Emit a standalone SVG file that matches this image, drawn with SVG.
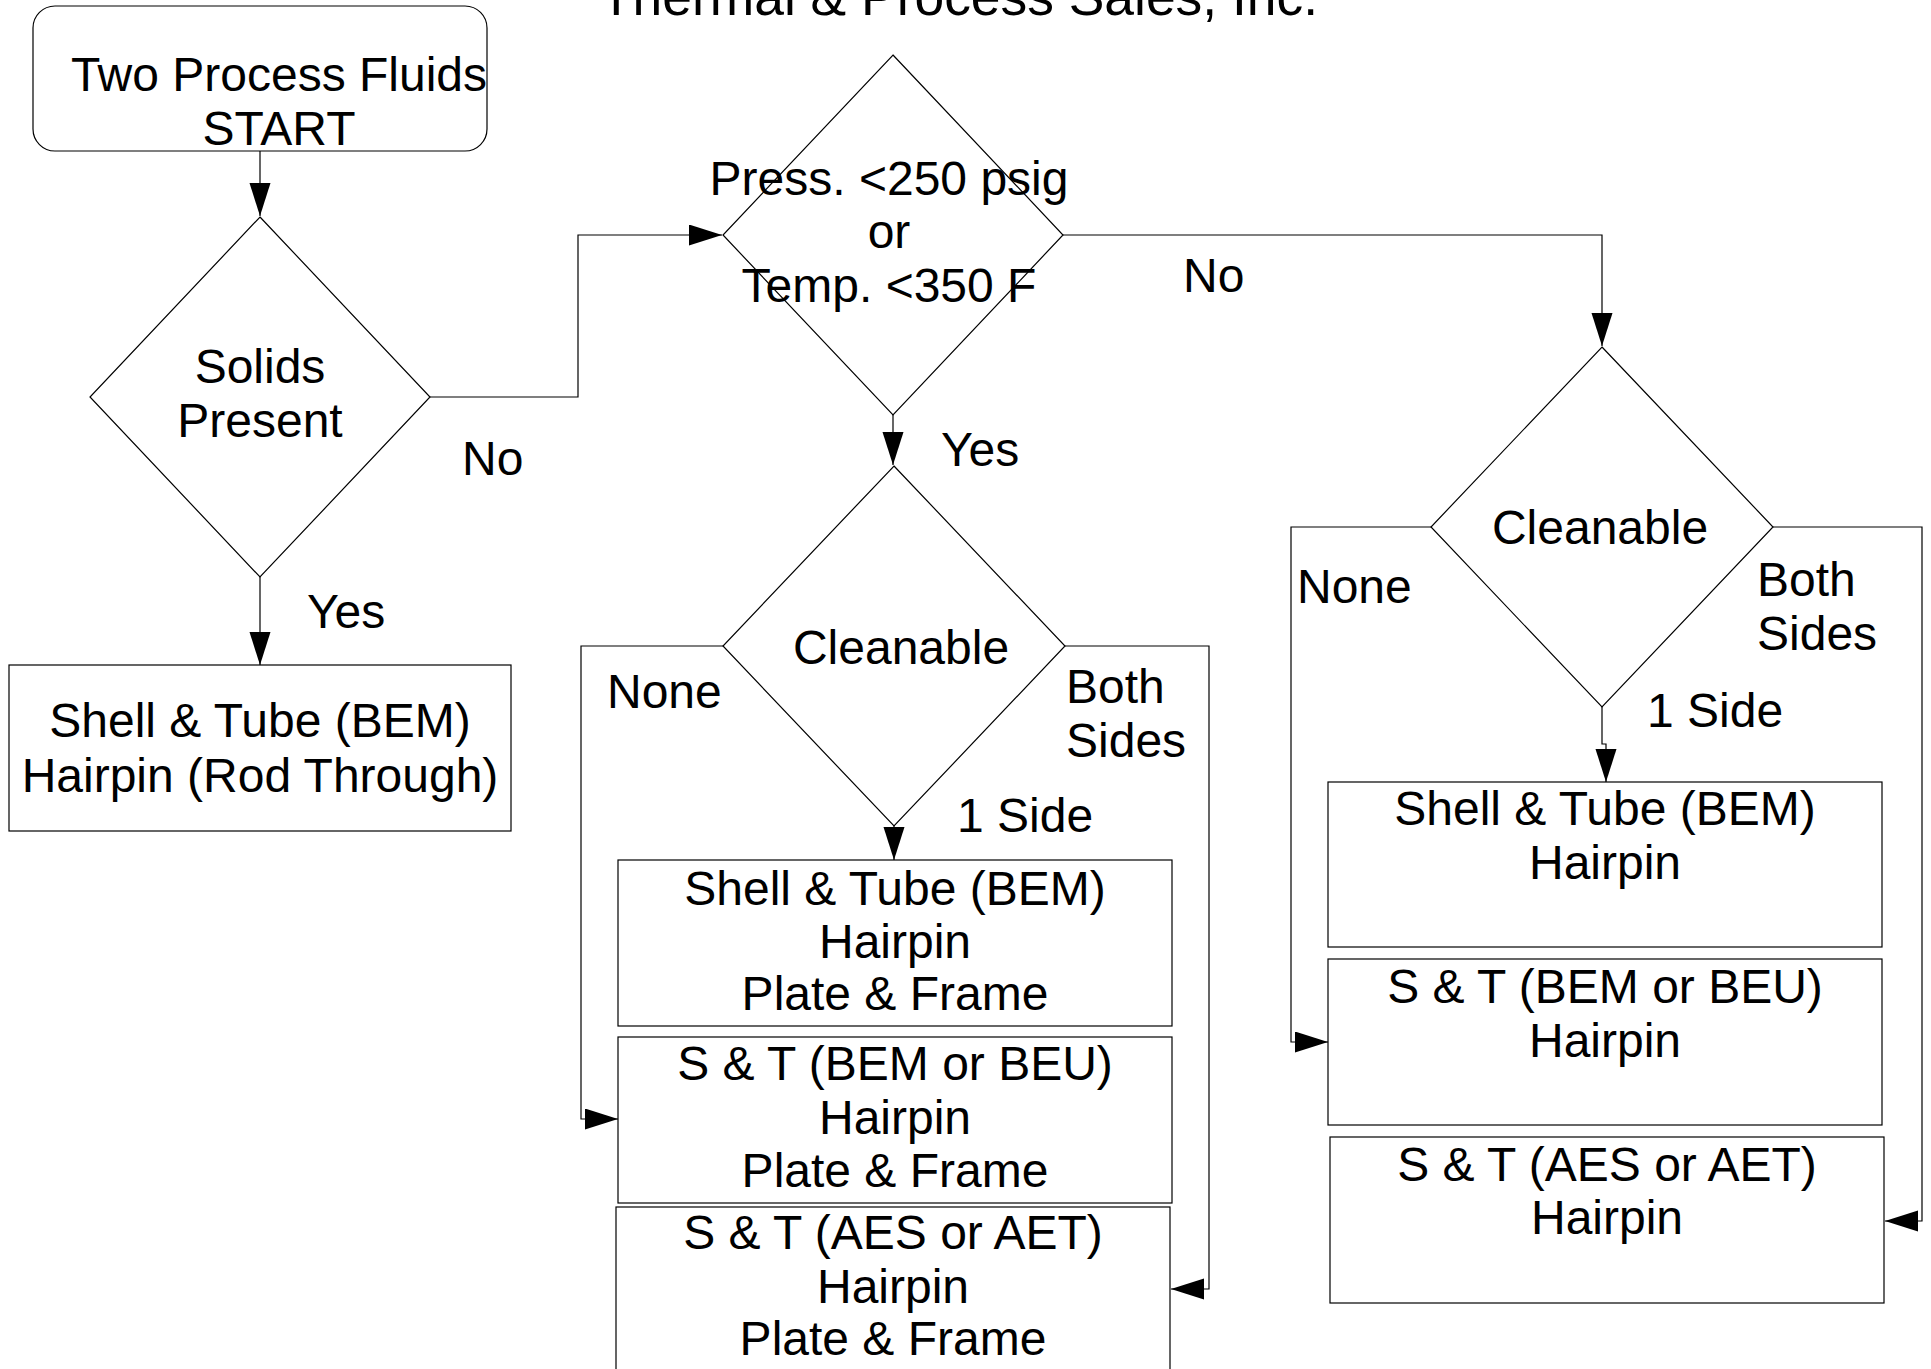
<svg xmlns="http://www.w3.org/2000/svg" width="1931" height="1369" viewBox="0 0 1931 1369">
<style>
text{font-family:"Liberation Sans",Arial,sans-serif;font-size:48px;fill:#000}
.c{text-anchor:middle}
.shape{fill:#fff;stroke:#000;stroke-width:1.2}
.con{fill:none;stroke:#000;stroke-width:1.2}
</style>
<defs>
<marker id="ah" markerUnits="userSpaceOnUse" markerWidth="34" markerHeight="22" refX="33" refY="10.5" orient="auto"><path d="M0,0 L33,10.5 L0,21 z" fill="#000"/></marker>
</defs>
<rect width="1931" height="1369" fill="#fff"/>
<text id="title" class="c" x="959" y="15" style="font-size:53.4px">Thermal &amp; Process Sales, Inc.</text>
<g id="connectors">
<path class="con" d="M260,151 V216" marker-end="url(#ah)"/>
<path class="con" d="M430,397 H578 V235 H722" marker-end="url(#ah)"/>
<path class="con" d="M260,577 V665" marker-end="url(#ah)"/>
<path class="con" d="M1063,235 H1602 V346" marker-end="url(#ah)"/>
<path class="con" d="M893,415 V465" marker-end="url(#ah)"/>
<path class="con" d="M723,646 H581 V1119 H618" marker-end="url(#ah)"/>
<path class="con" d="M1065,646 H1209 V1289 H1171" marker-end="url(#ah)"/>
<path class="con" d="M894,826 V860" marker-end="url(#ah)"/>
<path class="con" d="M1431,527 H1291 V1042 H1328" marker-end="url(#ah)"/>
<path class="con" d="M1773,527 H1922 V1221 H1885" marker-end="url(#ah)"/>
<path class="con" d="M1602,707 V744 H1606 V782" marker-end="url(#ah)"/>
</g>
<g id="start">
<rect class="shape" x="33" y="6" width="454" height="145" rx="22" ry="22"/>
<text class="c" x="279" y="91">Two Process Fluids</text>
<text class="c" x="279" y="145">START</text>
</g>
<g id="solids">
<polygon class="shape" points="260,217 430,397 260,577 90,397"/>
<text class="c" x="260" y="383">Solids</text>
<text class="c" x="260" y="437">Present</text>
</g>
<g id="rodthrough">
<rect class="shape" x="9" y="665" width="502" height="166"/>
<text class="c" x="260" y="737">Shell &amp; Tube (BEM)</text>
<text class="c" x="260" y="792">Hairpin (Rod Through)</text>
</g>
<g id="press">
<polygon class="shape" points="893,55 1063,235 893,415 723,235" style="fill:none"/>
<text class="c" x="889" y="195">Press. &lt;250 psig</text>
<text class="c" x="889" y="248">or</text>
<text class="c" x="889" y="302">Temp. &lt;350 F</text>
</g>
<g id="clean-mid">
<polygon class="shape" points="894,466 1065,646 894,826 723,646"/>
<text class="c" x="901" y="664">Cleanable</text>
</g>
<g id="clean-right">
<polygon class="shape" points="1602,347 1773,527 1602,707 1431,527"/>
<text class="c" x="1600" y="544">Cleanable</text>
</g>
<g id="mid1">
<rect class="shape" x="618" y="860" width="554" height="166"/>
<text class="c" x="895" y="905">Shell &amp; Tube (BEM)</text>
<text class="c" x="895" y="958">Hairpin</text>
<text class="c" x="895" y="1010">Plate &amp; Frame</text>
</g>
<g id="mid2">
<rect class="shape" x="618" y="1037" width="554" height="166"/>
<text class="c" x="895" y="1080">S &amp; T (BEM or BEU)</text>
<text class="c" x="895" y="1134">Hairpin</text>
<text class="c" x="895" y="1187">Plate &amp; Frame</text>
</g>
<g id="mid3">
<rect class="shape" x="616" y="1207" width="554" height="175"/>
<text class="c" x="893" y="1249">S &amp; T (AES or AET)</text>
<text class="c" x="893" y="1303">Hairpin</text>
<text class="c" x="893" y="1355">Plate &amp; Frame</text>
</g>
<g id="right1">
<rect class="shape" x="1328" y="782" width="554" height="165"/>
<text class="c" x="1605" y="825">Shell &amp; Tube (BEM)</text>
<text class="c" x="1605" y="879">Hairpin</text>
</g>
<g id="right2">
<rect class="shape" x="1328" y="959" width="554" height="166"/>
<text class="c" x="1605" y="1003">S &amp; T (BEM or BEU)</text>
<text class="c" x="1605" y="1057">Hairpin</text>
</g>
<g id="right3">
<rect class="shape" x="1330" y="1137" width="554" height="166"/>
<text class="c" x="1607" y="1181">S &amp; T (AES or AET)</text>
<text class="c" x="1607" y="1234">Hairpin</text>
</g>
<g id="labels">
<text x="462" y="475">No</text>
<text x="307" y="628">Yes</text>
<text x="1183" y="292">No</text>
<text x="941" y="466">Yes</text>
<text x="607" y="708">None</text>
<text x="1066" y="703">Both</text>
<text x="1066" y="757">Sides</text>
<text x="957" y="832">1 Side</text>
<text x="1297" y="603">None</text>
<text x="1757" y="596">Both</text>
<text x="1757" y="650">Sides</text>
<text x="1647" y="727">1 Side</text>
</g>
</svg>
